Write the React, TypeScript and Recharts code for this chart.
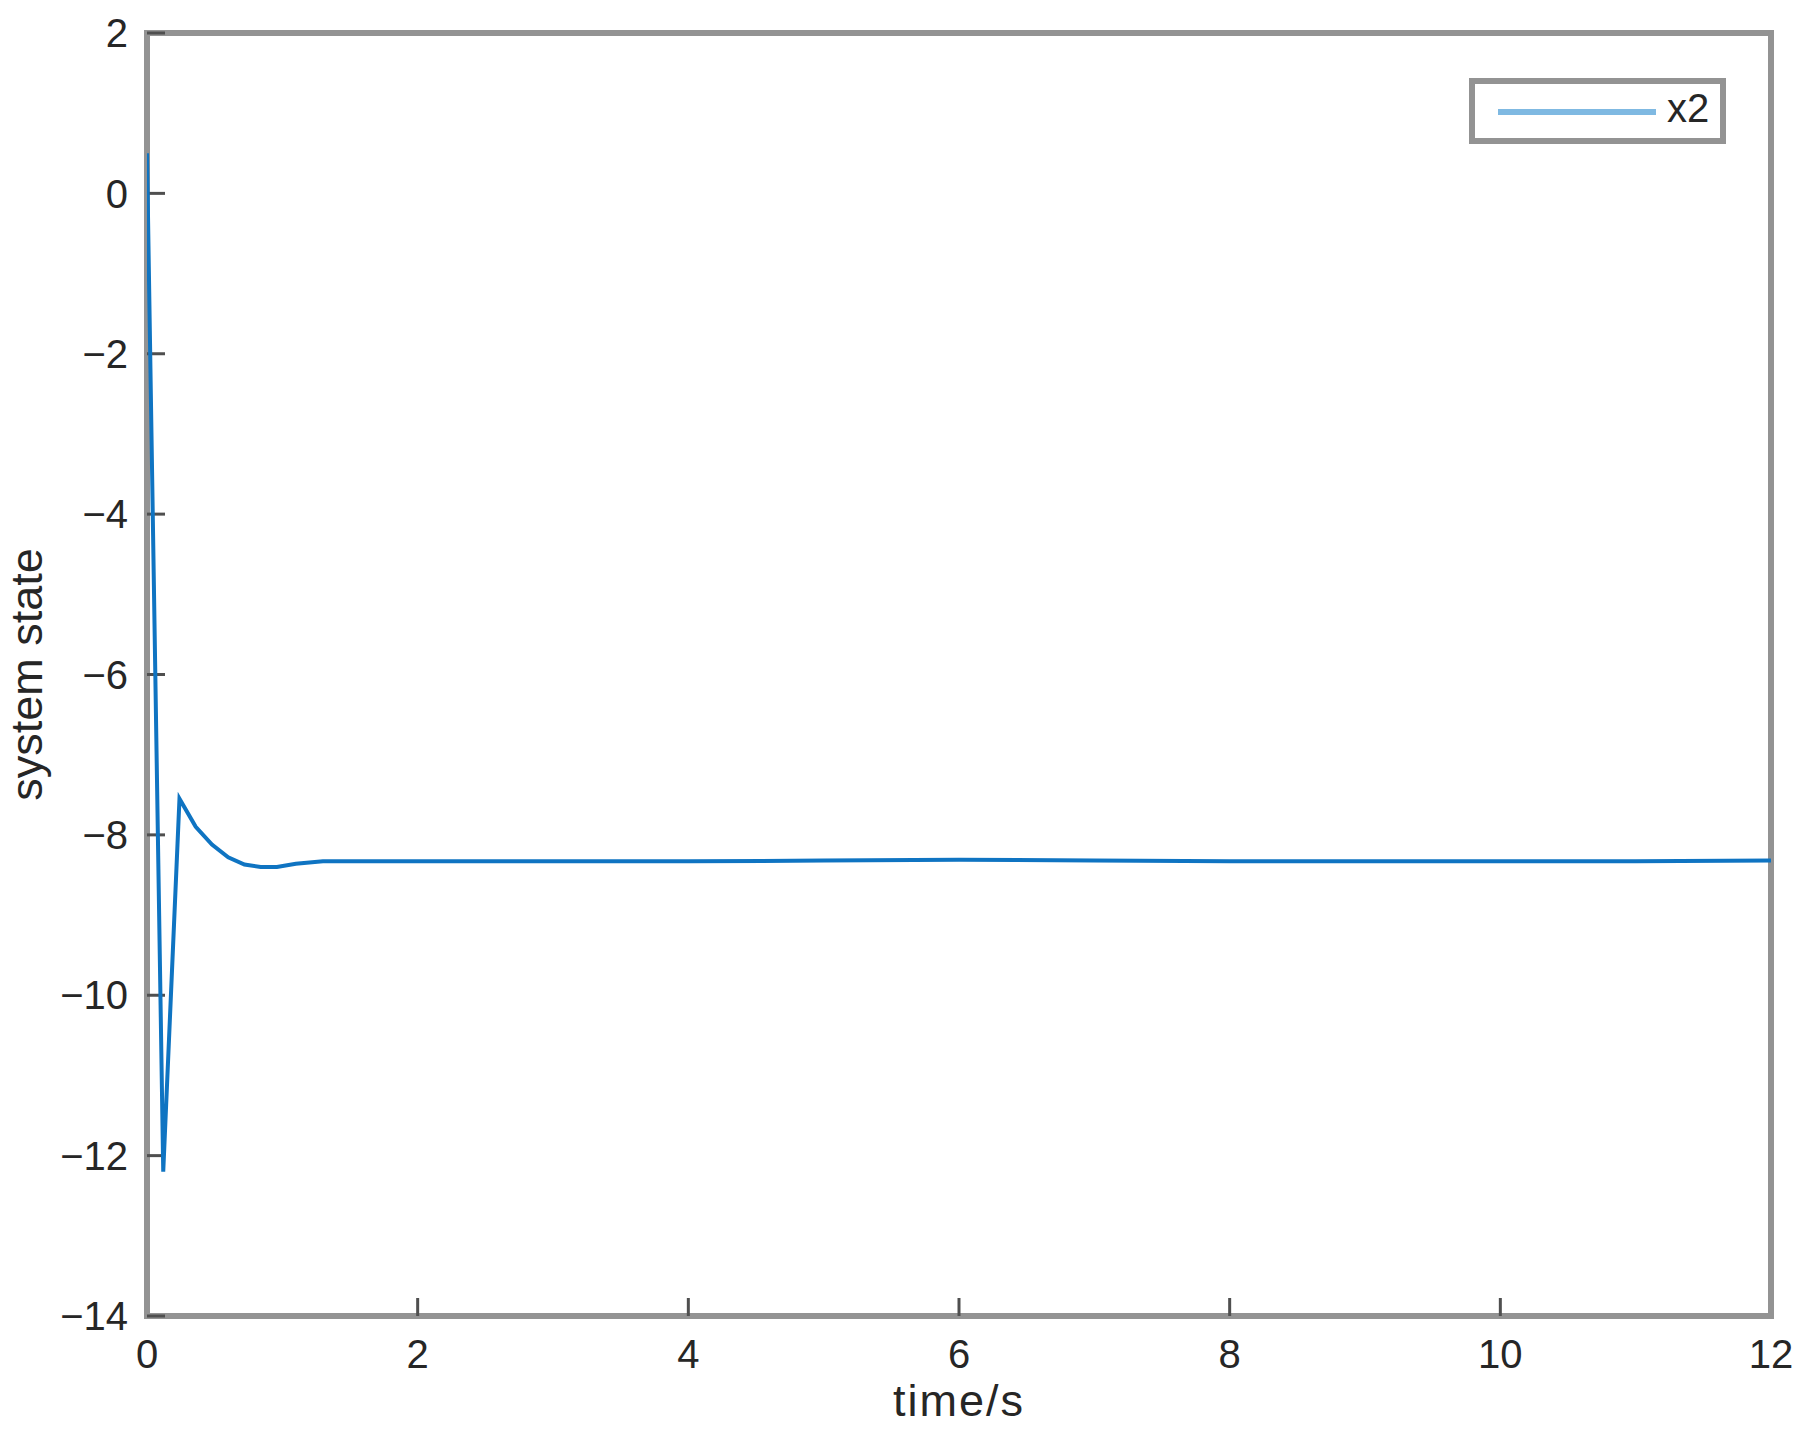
import React from 'react';
import { LineChart, Line, XAxis, YAxis, Legend, Label } from 'recharts';

// time samples (s)
const timeS = [0, 0.12, 0.24, 0.36, 0.48, 0.6, 0.72, 0.84, 0.96, 1.1, 1.3, 1.6, 2, 3, 4, 5, 6, 7, 8, 9, 10, 11, 12];
// system state x2
const x2Values = [0.5, -12.2, -7.55, -7.9, -8.12, -8.28, -8.37, -8.4, -8.4, -8.36, -8.33, -8.33, -8.33, -8.33, -8.33, -8.32, -8.31, -8.32, -8.33, -8.33, -8.33, -8.33, -8.32];

const xTicks = [0, 2, 4, 6, 8, 10, 12];
const yTicks = [-14, -12, -10, -8, -6, -4, -2, 0, 2];

const seriesName = 'x2';
const xLabel = 'time/s';
const yLabel = 'system state';

const data = timeS.map((t, i) => ({ t, x2: x2Values[i] }));

const AXIS_COLOR = '#939393';
const TICK_COLOR = '#4f4f4f';
const TEXT_COLOR = '#262626';
const LINE_COLOR = '#0f74c2';
const LEGEND_LINE = '#7fb9e2';
const FONT = '"Liberation Sans", Arial, sans-serif';

const fmt = (v: number) => String(v).replace('-', '\u2212');

const axisLineStyle = { stroke: AXIS_COLOR, strokeWidth: 6, strokeLinecap: 'square' as const };
const tickLineStyle = { stroke: TICK_COLOR, strokeWidth: 3 };
const tickText = { fill: TEXT_COLOR, fontSize: 40, fontFamily: FONT };

const LegendBox = () => (
  <div
    style={{
      boxSizing: 'border-box',
      width: 257,
      height: 66,
      border: `6px solid ${AXIS_COLOR}`,
      background: '#ffffff',
      position: 'relative',
    }}
  >
    <div
      style={{
        position: 'absolute',
        left: 23,
        top: 25,
        width: 158,
        height: 6,
        background: LEGEND_LINE,
      }}
    />
    <span
      style={{
        position: 'absolute',
        left: 192,
        top: 4,
        fontSize: 40,
        lineHeight: '40px',
        fontFamily: FONT,
        color: TEXT_COLOR,
        whiteSpace: 'nowrap',
      }}
    >
      {seriesName}
    </span>
  </div>
);

export default function App() {
  return (
    <div style={{ position: 'absolute', left: 0, top: 0, width: 1811, height: 1434, background: '#ffffff' }}>
      <LineChart
        width={1811}
        height={1434}
        data={data}
        margin={{ top: 32, right: 39, bottom: 18, left: 47 }}
      >
        <XAxis
          xAxisId="bottom"
          dataKey="t"
          type="number"
          domain={[0, 12]}
          ticks={xTicks}
          allowDataOverflow
          orientation="bottom"
          height={100}
          axisLine={axisLineStyle}
          tickLine={tickLineStyle}
          tickSize={-18}
          tickMargin={42}
          tick={tickText}
          tickFormatter={fmt}
          interval={0}
        >
          <Label
            value={xLabel}
            position="insideBottom"
            offset={0}
            style={{ fill: TEXT_COLOR, fontSize: 45, fontFamily: FONT, letterSpacing: 2 }}
          />
        </XAxis>
        <XAxis
          xAxisId="top"
          dataKey="t"
          type="number"
          domain={[0, 12]}
          ticks={xTicks}
          allowDataOverflow
          orientation="top"
          height={1}
          axisLine={axisLineStyle}
          tickLine={tickLineStyle}
          tickSize={-18}
          tick={false}
          interval={0}
        />
        <YAxis
          yAxisId="left"
          type="number"
          domain={[-14, 2]}
          ticks={yTicks}
          allowDataOverflow
          orientation="left"
          width={100}
          axisLine={axisLineStyle}
          tickLine={tickLineStyle}
          tickSize={-18}
          tickMargin={37}
          tick={tickText}
          tickFormatter={fmt}
          interval={0}
        >
          <Label
            value={yLabel}
            angle={-90}
            position="insideLeft"
            offset={-21}
            style={{ fill: TEXT_COLOR, fontSize: 45, fontFamily: FONT, textAnchor: 'middle' }}
          />
        </YAxis>
        <YAxis
          yAxisId="right"
          type="number"
          domain={[-14, 2]}
          ticks={yTicks}
          allowDataOverflow
          orientation="right"
          width={1}
          axisLine={axisLineStyle}
          tickLine={tickLineStyle}
          tickSize={-18}
          tick={false}
          interval={0}
        />
        <Legend
          layout="vertical"
          align="center"
          verticalAlign="middle"
          content={<LegendBox />}
          wrapperStyle={{ left: 1469, top: 78, right: 'auto', bottom: 'auto', width: 257, height: 66, margin: 0, padding: 0 }}
        />
        <Line
          xAxisId="bottom"
          yAxisId="left"
          type="linear"
          dataKey="x2"
          name={seriesName}
          stroke={LINE_COLOR}
          strokeWidth={4}
          dot={false}
          activeDot={false}
          isAnimationActive={false}
          zIndex={600}
        />
      </LineChart>
    </div>
  );
}
